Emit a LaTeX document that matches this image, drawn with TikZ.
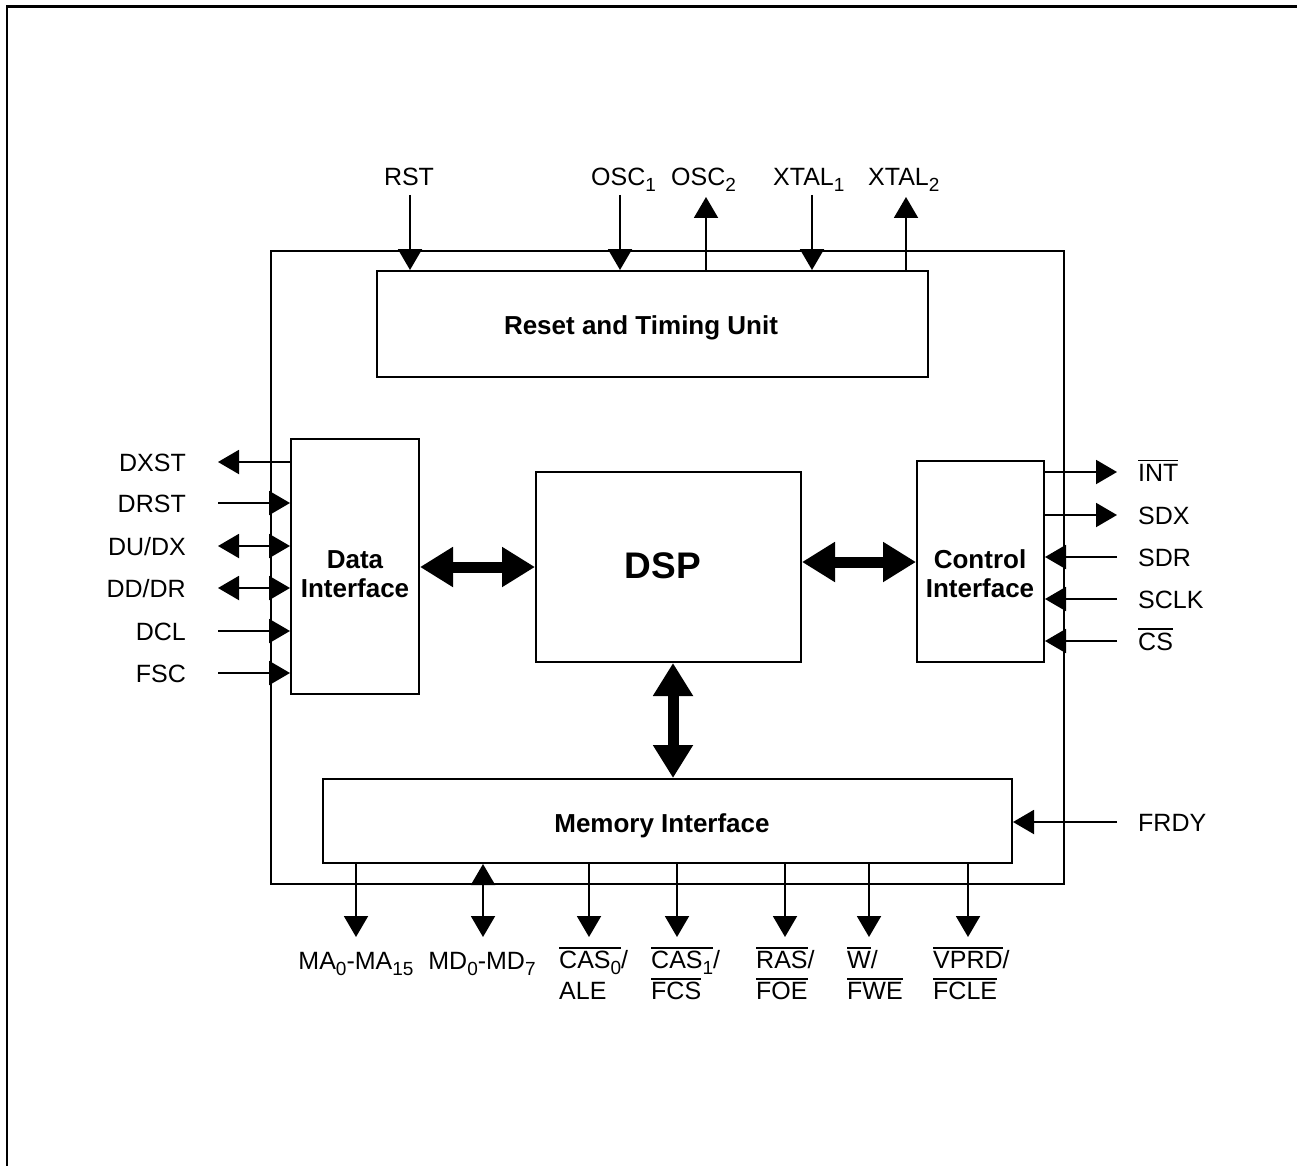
\documentclass[tikz,border=0pt]{standalone}
\usepackage{fontspec}
\setmainfont{Liberation Sans}
\usetikzlibrary{arrows.meta}
\newcommand\ovl[1]{\leavevmode\vbox{\hrule height 1.6pt\kern 2.5pt\hbox{#1}}}
\newcommand\sub[1]{\raisebox{-6pt}{\fontsize{19}{19}\selectfont #1}}
\tikzset{
  blk/.style={draw,line width=2pt,inner sep=0pt},
  sig/.style={line width=2pt},
  bus/.style={line width=11pt,{Triangle[length=33pt,width=38pt]}-{Triangle[length=33pt,width=38pt]}},
  pin/.style={font=\fontsize{25}{31}\selectfont,inner sep=0pt},
  ttl/.style={font=\fontsize{26}{29}\selectfont\bfseries,inner sep=0pt,align=center},
}
\begin{document}
\begin{tikzpicture}[x=1pt,y=-1pt,>={Triangle[length=21pt,width=24pt]}]
\useasboundingbox (0,0) rectangle (1297,1166);
% page frame
\draw[line width=2.4pt] (6,6.5) -- (1297,6.5);
\draw[line width=1.6pt] (7,6) -- (7,1166);
% blocks
\node[blk,minimum width=793,minimum height=633] (chip) at (667.5,567.5) {};
\node[blk,minimum width=551,minimum height=106] (rtu) at (652.5,324) {};
\node[blk,minimum width=128,minimum height=255] (dat) at (355,566.5) {};
\node[blk,minimum width=265,minimum height=190] (dsp) at (668.5,567) {};
\node[blk,minimum width=127,minimum height=201] (ctl) at (980.5,561.5) {};
\node[blk,minimum width=689,minimum height=84] (mem) at (667.5,821) {};
\node[ttl,anchor=base] (rtuT) at (641,334) {Reset and Timing Unit};
\node[ttl] (datT) at (355,574) {Data\\Interface};
\node[ttl,font=\fontsize{37}{40}\selectfont\bfseries,anchor=base] (dspT) at (663,578) {DSP};
\node[ttl] (ctlT) at (980,574) {Control\\Interface};
\node[ttl,anchor=base] (memT) at (662,832) {Memory Interface};
% internal buses
\draw[bus] (dat.east |- 0,567) -- (dsp.west |- 0,567);
\draw[bus] (dsp.east |- 0,562) -- (ctl.west |- 0,562);
\draw[bus] (673,0 |- dsp.south) -- (673,0 |- mem.north);
% top pins
\node[pin,anchor=base] (rst) at (409,186) {RST};
\node[pin,anchor=base west] (osc1) at (591,186) {OSC\sub{1}};
\node[pin,anchor=base west] (osc2) at (671,186) {OSC\sub{2}};
\node[pin,anchor=base west] (xtal1) at (773,186) {XTAL\sub{1}};
\node[pin,anchor=base west] (xtal2) at (868,186) {XTAL\sub{2}};
\coordinate (rstP) at (410,195);
\coordinate (osc1P) at (620,195);
\coordinate (osc2P) at (706,197);
\coordinate (xtal1P) at (812,195);
\coordinate (xtal2P) at (906,197);
\draw[sig,->] (rstP) -- (rstP |- rtu.north);
\draw[sig,->] (osc1P) -- (osc1P |- rtu.north);
\draw[sig,->] (osc2P |- rtu.north) -- (osc2P);
\draw[sig,->] (xtal1P) -- (xtal1P |- rtu.north);
\draw[sig,->] (xtal2P |- rtu.north) -- (xtal2P);
% data interface pins
\node[pin,anchor=base east] (dxst) at (186,471) {DXST};
\node[pin,anchor=base east] (drst) at (186,512) {DRST};
\node[pin,anchor=base east] (dudx) at (186,555) {DU/DX};
\node[pin,anchor=base east] (dddr) at (186,597) {DD/DR};
\node[pin,anchor=base east] (dcl) at (186,640) {DCL};
\node[pin,anchor=base east] (fsc) at (186,682) {FSC};
\coordinate (dxstP) at (218,462);
\coordinate (drstP) at (218,503);
\coordinate (dudxP) at (218,546);
\coordinate (dddrP) at (218,588);
\coordinate (dclP) at (218,631);
\coordinate (fscP) at (218,673);
\draw[sig,<-] (dxstP) -- (dxstP -| dat.west);
\draw[sig,->] (drstP) -- (drstP -| dat.west);
\draw[sig,<->] (dudxP) -- (dudxP -| dat.west);
\draw[sig,<->] (dddrP) -- (dddrP -| dat.west);
\draw[sig,->] (dclP) -- (dclP -| dat.west);
\draw[sig,->] (fscP) -- (fscP -| dat.west);
% control interface pins
\node[pin,anchor=base west] (int) at (1138,481) {\ovl{INT}};
\node[pin,anchor=base west] (sdx) at (1138,524) {SDX};
\node[pin,anchor=base west] (sdr) at (1138,566) {SDR};
\node[pin,anchor=base west] (sclk) at (1138,608) {SCLK};
\node[pin,anchor=base west] (cs) at (1138,650) {\ovl{CS}};
\coordinate (intP) at (1117,472);
\coordinate (sdxP) at (1117,515);
\coordinate (sdrP) at (1117,557);
\coordinate (sclkP) at (1117,599);
\coordinate (csP) at (1117,641);
\draw[sig,->] (intP -| ctl.east) -- (intP);
\draw[sig,->] (sdxP -| ctl.east) -- (sdxP);
\draw[sig,->] (sdrP) -- (sdrP -| ctl.east);
\draw[sig,->] (sclkP) -- (sclkP -| ctl.east);
\draw[sig,->] (csP) -- (csP -| ctl.east);
% memory interface pins
\node[pin,anchor=base west] (frdy) at (1138,831) {FRDY};
\coordinate (frdyP) at (1117,822);
\draw[sig,->] (frdyP) -- (frdyP -| mem.east);
\node[pin,anchor=base] (ma) at (356,969) {MA\sub{0}-MA\sub{15}};
\node[pin,anchor=base] (md) at (482,969) {MD\sub{0}-MD\sub{7}};
\node[pin,anchor=north west,align=left] (cas0) at (559,947) {\ovl{CAS\sub{0}}/\\ALE};
\node[pin,anchor=north west,align=left] (cas1) at (651,947) {\ovl{CAS\sub{1}}/\\\ovl{FCS}};
\node[pin,anchor=north west,align=left] (ras) at (756,947) {\ovl{RAS}/\\\ovl{FOE}};
\node[pin,anchor=north west,align=left] (wr) at (847,947) {\ovl{W}/\\\ovl{FWE}};
\node[pin,anchor=north west,align=left] (vprd) at (933,947) {\ovl{VPRD}/\\\ovl{FCLE}};
\coordinate (maP) at (356,937);
\coordinate (mdP) at (483,937);
\coordinate (cas0P) at (589,937);
\coordinate (cas1P) at (677,937);
\coordinate (rasP) at (785,937);
\coordinate (wrP) at (869,937);
\coordinate (vprdP) at (968,937);
\draw[sig,->] (maP |- mem.south) -- (maP);
\draw[sig,<->] (mdP |- mem.south) -- (mdP);
\draw[sig,->] (cas0P |- mem.south) -- (cas0P);
\draw[sig,->] (cas1P |- mem.south) -- (cas1P);
\draw[sig,->] (rasP |- mem.south) -- (rasP);
\draw[sig,->] (wrP |- mem.south) -- (wrP);
\draw[sig,->] (vprdP |- mem.south) -- (vprdP);
\end{tikzpicture}
\end{document}
